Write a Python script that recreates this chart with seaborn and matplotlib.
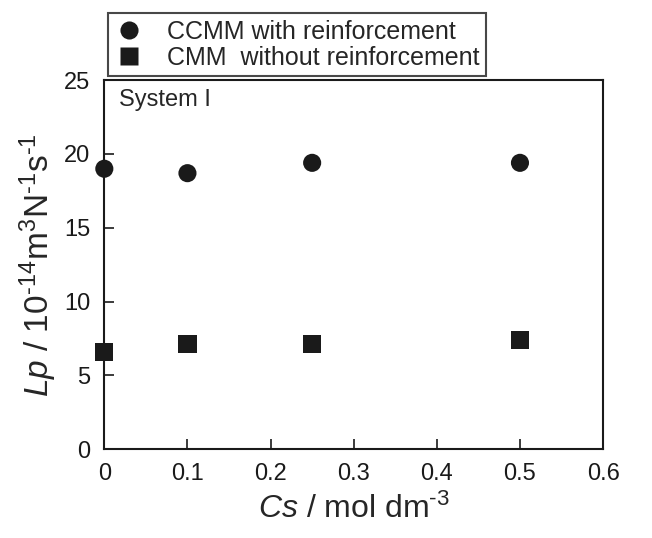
import numpy as np
import pandas as pd
import seaborn as sns
import matplotlib.pyplot as plt

# data
cs = [0.0, 0.1, 0.25, 0.5]
lp_ccmm = [19.0, 18.7, 19.4, 19.4]
lp_cmm = [6.6, 7.1, 7.1, 7.4]
series = ["CCMM with reinforcement", "CMM  without reinforcement"]
xticks = [0, 0.1, 0.2, 0.3, 0.4, 0.5, 0.6]
yticks = [0, 5, 10, 15, 20, 25]

df = pd.DataFrame({
    "Cs": cs + cs,
    "Lp": lp_ccmm + lp_cmm,
    "membrane": [series[0]] * len(cs) + [series[1]] * len(cs),
})

sns.set_style("ticks")
plt.rcParams["font.family"] = ["Liberation Sans", "DejaVu Sans"]
plt.rcParams["mathtext.fontset"] = "custom"
plt.rcParams["mathtext.rm"] = "Liberation Sans"
plt.rcParams["mathtext.it"] = "Liberation Sans:italic"

fig = plt.figure(figsize=(6.52, 5.38), dpi=100)
ax = fig.add_axes([0.16, 0.165, 0.765, 0.686])

sns.scatterplot(data=df, x="Cs", y="Lp", hue="membrane", style="membrane",
                markers={series[0]: "o", series[1]: "s"},
                palette={series[0]: "#1a1a1a", series[1]: "#1a1a1a"},
                s=170, edgecolor="none", ax=ax, clip_on=False, zorder=3)

ax.set_xlim(0, 0.6)
ax.set_ylim(0, 25)
ax.set_xticks(xticks)
ax.set_xticklabels(["0", "0.1", "0.2", "0.3", "0.4", "0.5", "0.6"])
ax.set_yticks(yticks)
ax.tick_params(direction="in", length=7, width=1.2, labelsize=17, pad=10,
               colors="#1a1a1a")
for sp in ax.spines.values():
    sp.set_linewidth(1.5)
    sp.set_color("#1a1a1a")

ax.set_xlabel(r"$Cs$ / mol dm$^{\text{-}3}$", fontsize=23, labelpad=6)
ax.set_ylabel(r"$Lp$ / 10$^{\text{-}14}$m$^3$N$^{\text{-}1}$s$^{\text{-}1}$",
              fontsize=24, labelpad=4)

ax.text(0.03, 0.975, "System I", transform=ax.transAxes, fontsize=17,
        va="top", ha="left")

leg = ax.legend(loc="lower left", bbox_to_anchor=(0, 1.0), fontsize=18,
                frameon=True, fancybox=False, edgecolor="#1a1a1a",
                borderaxespad=0.15, handletextpad=0.9, labelspacing=0.1,
                handlelength=1.2, markerscale=1.0, borderpad=0.25)
leg.get_frame().set_linewidth(1.5)

fig.savefig("out.png", dpi=100)
